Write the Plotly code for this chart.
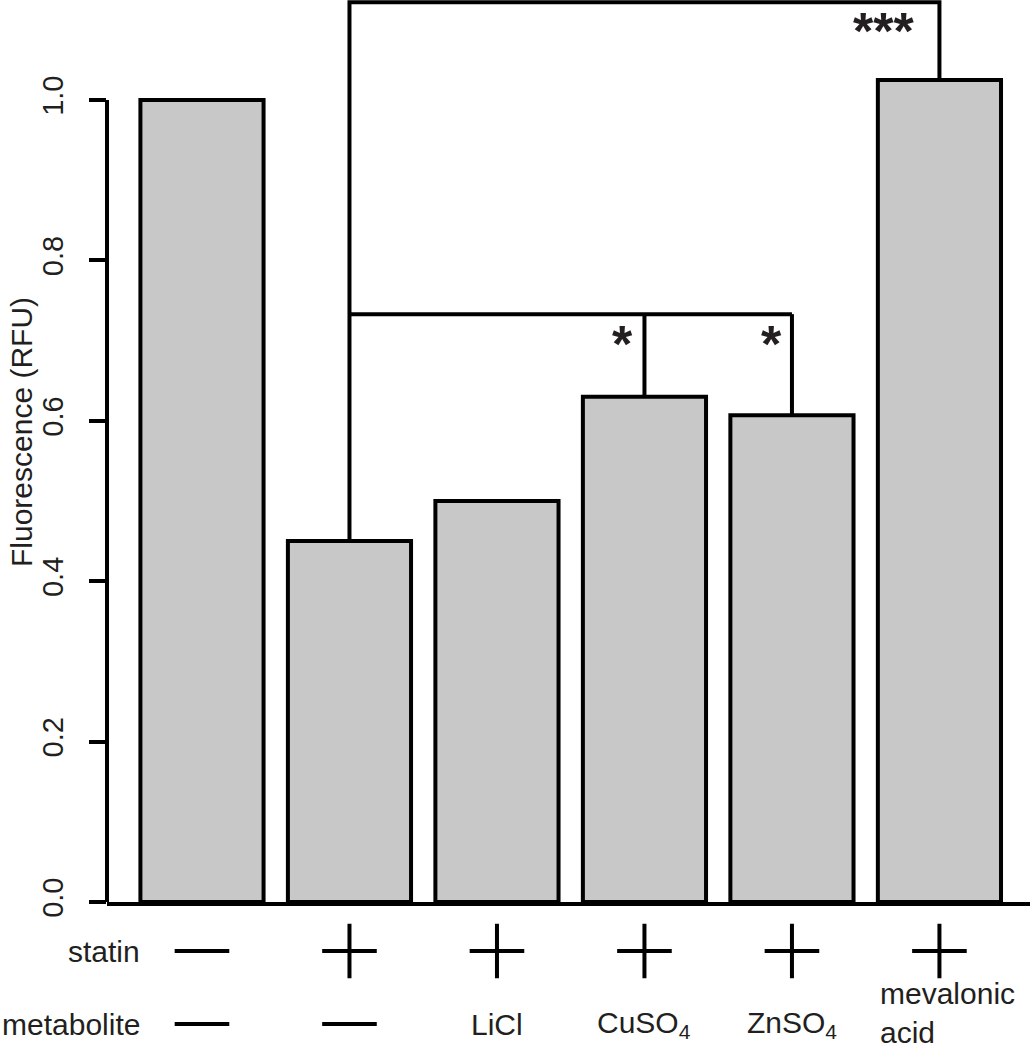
import plotly.graph_objects as go

# ---- data ----
categories = ["ctrl", "statin", "statin+LiCl", "statin+CuSO4", "statin+ZnSO4", "statin+mevalonic acid"]
fluorescence = [1.00, 0.45, 0.50, 0.63, 0.607, 1.025]
statin_marks = ["-", "+", "+", "+", "+", "+"]
metabolite_labels = ["-", "-", "LiCl", "CuSO<sub>4</sub>", "ZnSO<sub>4</sub>", "mevalonic<br>acid"]
y_ticks = [0.0, 0.2, 0.4, 0.6, 0.8, 1.0]
y_tick_text = ["0.0", "0.2", "0.4", "0.6", "0.8", "1.0"]
bracket_top = 1.122
bracket_mid = 0.733

FONT = "Liberation Sans, Arial, sans-serif"
TXT = "#231f20"
FS = 30
x = list(range(len(categories)))
ROW_STATIN, ROW_METAB = 1, 0

fig = go.Figure()
fig.add_trace(go.Bar(
    x=x, y=fluorescence, width=0.835,
    marker=dict(color="#c8c8c8", line=dict(color="black", width=4)),
    showlegend=False, hoverinfo="skip"))

# significance brackets
def line(xs, ys):
    fig.add_trace(go.Scatter(x=xs, y=ys, mode="lines",
                             line=dict(color="black", width=4),
                             showlegend=False, hoverinfo="skip"))

line([1, 1, 5, 5], [fluorescence[1], bracket_top, bracket_top, fluorescence[5]])
line([1, 4], [bracket_mid, bracket_mid])
line([3, 3], [bracket_mid, fluorescence[3]])
line([4, 4], [bracket_mid, fluorescence[4]])

# stars
for sx, sy, s in [(2.85, 0.703, "*"), (3.86, 0.703, "*"), (4.62, 1.094, "***")]:
    fig.add_annotation(x=sx, y=sy, xref="x", yref="y", text="<b>%s</b>" % s,
                       showarrow=False, font=dict(family=FONT, size=52, color=TXT),
                       yshift=-6)

# statin / metabolite rows (second subplot below the axis)
for i, m in enumerate(statin_marks):
    fig.add_trace(go.Scatter(
        x=[i], y=[ROW_STATIN], mode="markers", xaxis="x2", yaxis="y2", cliponaxis=False,
        marker=dict(symbol="cross-thin" if m == "+" else "line-ew", size=39,
                    line=dict(color="black", width=4)),
        showlegend=False, hoverinfo="skip"))
for i, m in enumerate(metabolite_labels):
    if m == "-":
        fig.add_trace(go.Scatter(
            x=[i], y=[ROW_METAB], mode="markers", xaxis="x2", yaxis="y2", cliponaxis=False,
            marker=dict(symbol="line-ew", size=39, line=dict(color="black", width=4)),
            showlegend=False, hoverinfo="skip"))
    elif "<br>" in m:
        fig.add_annotation(x=i - 0.417, y=ROW_METAB, xref="x2", yref="y2", text=m,
                           showarrow=False, xanchor="left", align="left", yshift=11,
                           font=dict(family=FONT, size=FS, color=TXT))
    else:
        fig.add_annotation(x=i, y=ROW_METAB, xref="x2", yref="y2", text=m,
                           showarrow=False, font=dict(family=FONT, size=FS, color=TXT))

for lab, yy in [("statin", ROW_STATIN), ("metabolite", ROW_METAB)]:
    fig.add_annotation(x=-0.405, y=yy, xref="x2", yref="y2", text=lab, showarrow=False,
                       xanchor="right", font=dict(family=FONT, size=FS, color=TXT))

# y axis title
fig.add_annotation(x=-0.0932, xref="paper", y=0.586, yref="y", text="Fluorescence (RFU)",
                   textangle=-90, showarrow=False, xanchor="center", yanchor="middle",
                   font=dict(family=FONT, size=FS, color=TXT))

# y axis line from 0 to 1
fig.add_shape(type="line", xref="paper", yref="y", x0=0, x1=0, y0=0, y1=1.0,
              line=dict(color="black", width=4))

XR = [-0.644, 5.614]
fig.update_layout(
    width=1030, height=1050,
    margin=dict(l=107, r=0, t=0, b=0, pad=0),
    plot_bgcolor="white", paper_bgcolor="white",
    xaxis=dict(range=XR, showgrid=False, zeroline=False, anchor="y", automargin=False,
               showticklabels=False, ticks="", showline=True, linecolor="black",
               linewidth=4),
    yaxis=dict(domain=[148 / 1050, 1], range=[0, 1.1247], anchor="x", automargin=False,
               showgrid=False, zeroline=False, showline=False,
               tickvals=y_ticks, ticktext=y_tick_text, ticks="outside", ticklen=17,
               tickwidth=4, tickcolor="black", tickangle=-90, ticklabelstandoff=14,
               tickfont=dict(family=FONT, size=29, color=TXT)),
    xaxis2=dict(range=XR, anchor="y2", visible=False, automargin=False),
    yaxis2=dict(domain=[0, 0.14], range=[-0.356, 1.658], anchor="x2", visible=False,
                automargin=False),
)

fig.write_html("out.html", config={"displayModeBar": False},
               post_script="document.body.style.margin='0';document.body.style.overflow='hidden';")
